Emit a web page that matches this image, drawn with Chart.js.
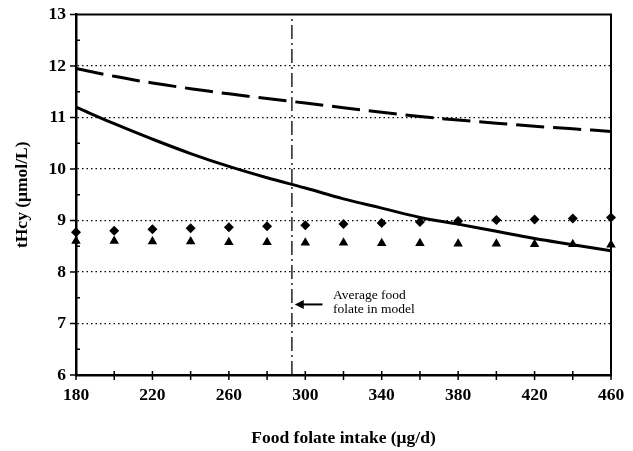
<!DOCTYPE html>
<html><head><meta charset="utf-8">
<script src="https://cdn.jsdelivr.net/npm/chart.js@4/dist/chart.umd.min.js"></script>
<style>html,body{margin:0;padding:0;background:#fff;}</style>
</head><body>
<canvas id="c" width="633" height="451"></canvas>
<script>
// ---- data ----
const intake = [180,200,220,240,260,280,300,320,340,360,380,400,420,440,460];
const curveDashed = [11.95,11.80,11.67,11.56,11.46,11.37,11.28,11.19,11.10,11.02,10.95,10.89,10.83,10.78,10.73];
const curveSolid  = [11.20,10.88,10.58,10.30,10.05,9.83,9.63,9.42,9.24,9.06,8.93,8.79,8.65,8.53,8.41];
const diamonds    = [8.77,8.80,8.83,8.85,8.87,8.89,8.91,8.93,8.95,8.97,8.99,9.01,9.02,9.04,9.06];
const triangles   = [8.60,8.60,8.59,8.59,8.58,8.58,8.57,8.57,8.56,8.56,8.55,8.55,8.54,8.54,8.53];
const xTickLabels = [180,220,260,300,340,380,420,460];
const yTickLabels = [6,7,8,9,10,11,12,13];
const avgFolate = 293;
const arrowFrom = {x: 309, y: 7.37};
const arrowTo   = {x: 294.5, y: 7.37};
const noteLines = ["Average food", "folate in model"];
const notePos = {x: 314.5, y: 7.55};

const pts = (vals) => intake.map((x, i) => ({x, y: vals[i]}));
const SERIF = '"Liberation Serif", "Times New Roman", serif';

const extras = {
  id: 'extras',
  afterDraw(chart) {
    const ctx = chart.ctx, a = chart.chartArea;
    const xs = chart.scales.x, ys = chart.scales.y;
    ctx.save();
    ctx.strokeStyle = '#000';
    // top and right frame
    ctx.lineWidth = 2;
    ctx.beginPath();
    ctx.moveTo(a.left, a.top); ctx.lineTo(a.right, a.top); ctx.lineTo(a.right, a.bottom);
    ctx.stroke();
    // y ticks: majors outward, minors inward
    ctx.lineWidth = 1.5;
    for (let v = 6; v <= 13.001; v += 0.5) {
      const py = ys.getPixelForValue(v);
      ctx.beginPath();
      if (Number.isInteger(v)) { ctx.moveTo(a.left - 6, py); ctx.lineTo(a.left, py); }
      else { ctx.moveTo(a.left, py); ctx.lineTo(a.left + 4, py); }
      ctx.stroke();
    }
    // x ticks every 20, crossing the axis
    for (let v = 180; v <= 460; v += 20) {
      const px = xs.getPixelForValue(v);
      ctx.beginPath();
      ctx.moveTo(px, a.bottom - 4); ctx.lineTo(px, a.bottom + 5);
      ctx.stroke();
    }
    // arrow
    const x1 = xs.getPixelForValue(arrowFrom.x), y1 = ys.getPixelForValue(arrowFrom.y);
    const x2 = xs.getPixelForValue(arrowTo.x), y2 = ys.getPixelForValue(arrowTo.y);
    ctx.lineWidth = 2;
    ctx.beginPath(); ctx.moveTo(x1, y1); ctx.lineTo(x2 + 6, y2); ctx.stroke();
    ctx.fillStyle = '#000';
    ctx.beginPath(); ctx.moveTo(x2, y2); ctx.lineTo(x2 + 9, y2 - 4.5); ctx.lineTo(x2 + 9, y2 + 4.5); ctx.closePath(); ctx.fill();
    // note
    ctx.font = '13.5px ' + SERIF;
    ctx.textAlign = 'left'; ctx.textBaseline = 'middle';
    const nx = xs.getPixelForValue(notePos.x), ny = ys.getPixelForValue(notePos.y);
    noteLines.forEach((t, i) => ctx.fillText(t, nx, ny + i * 14));
    ctx.restore();
  }
};

new Chart(document.getElementById('c'), {
  type: 'line',
  data: {
    datasets: [
      { data: pts(curveDashed), borderColor: '#000', borderWidth: 3, borderDash: [28, 9], pointRadius: 0, tension: 0.4, fill: false },
      { data: pts(curveSolid), borderColor: '#000', borderWidth: 3, pointRadius: 0, tension: 0.4, fill: false },
      { data: pts(diamonds), showLine: false, pointStyle: 'rectRot', pointRadius: 5, backgroundColor: '#000', borderColor: '#000', borderWidth: 0, clip: false },
      { data: pts(triangles), showLine: false, pointStyle: 'triangle', pointRadius: 5.5, backgroundColor: '#000', borderColor: '#000', borderWidth: 0, clip: false },
      { data: [{x: avgFolate, y: 6}, {x: avgFolate, y: 13}], borderColor: '#000', borderWidth: 1.3, borderDash: [14, 4, 2, 4], pointRadius: 0 }
    ]
  },
  options: {
    responsive: false,
    animation: false,
    events: [],
    layout: { padding: { top: 14, right: 22, left: 0, bottom: 0 } },
    plugins: { legend: { display: false }, tooltip: { enabled: false } },
    scales: {
      x: {
        type: 'linear', min: 180, max: 460,
        afterFit: (s) => { s.height = 76; },
        afterBuildTicks: (s) => { s.ticks = xTickLabels.map(v => ({value: v})); },
        ticks: { color: '#000', font: { family: SERIF, size: 17.5, weight: 'bold' }, padding: 6, maxRotation: 0, autoSkip: false },
        grid: { drawOnChartArea: false, drawTicks: true, tickLength: 4, tickColor: 'rgba(0,0,0,0)' },
        border: { color: '#000', width: 2.5 },
        title: { display: true, text: 'Food folate intake (\u03bcg/d)', color: '#000', font: { family: SERIF, size: 17.5, weight: 'bold' }, padding: { top: 4, bottom: 2 } }
      },
      y: {
        min: 6, max: 13,
        afterFit: (s) => { s.width = 76; },
        afterBuildTicks: (s) => { s.ticks = yTickLabels.map(v => ({value: v})); },
        ticks: { color: '#000', font: { family: SERIF, size: 17.5, weight: 'bold' }, padding: 4, autoSkip: false },
        grid: {
          drawTicks: true, tickLength: 6, tickColor: 'rgba(0,0,0,0)',
          color: (c) => (c.tick && c.tick.value > 6 && c.tick.value < 13) ? '#000' : 'rgba(0,0,0,0)',
          lineWidth: 1.2
        },
        border: { color: '#000', width: 2.5, dash: [1.5, 3] },
        title: { display: true, text: 'tHcy (\u03bcmol/L)', color: '#000', font: { family: SERIF, size: 17.5, weight: 'bold' }, padding: { top: 12, bottom: 0 } }
      }
    }
  },
  plugins: [extras]
});
</script>
</body></html>
